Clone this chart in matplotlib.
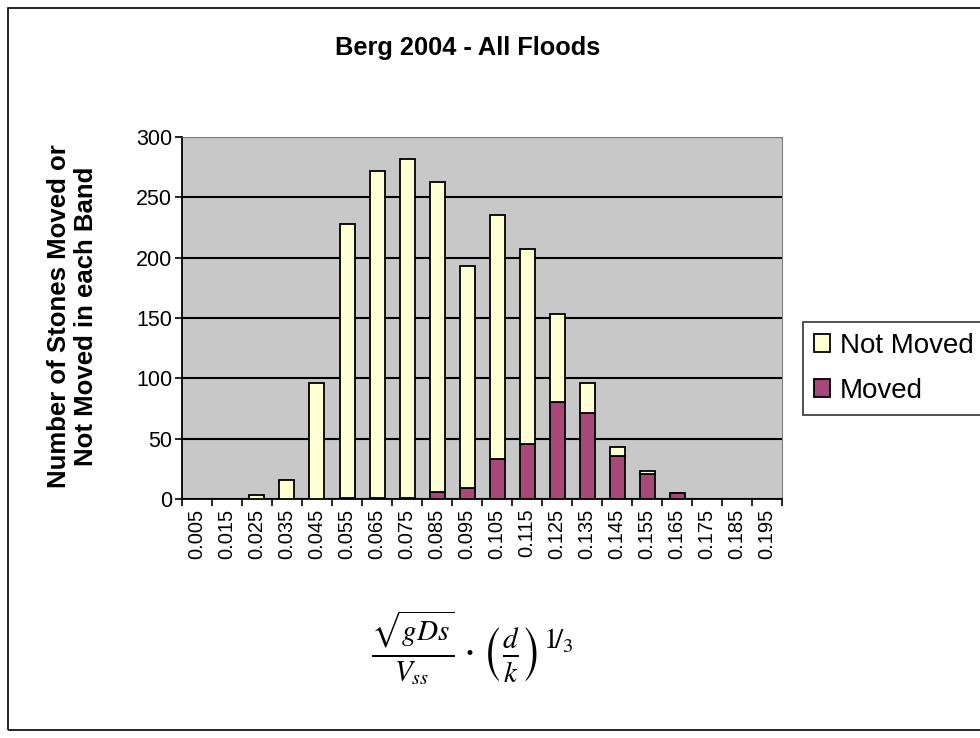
import numpy as np
import matplotlib
matplotlib.use("Agg")
import matplotlib.pyplot as plt
from matplotlib.patches import Rectangle

# Data
bands = ["0.005", "0.015", "0.025", "0.035", "0.045", "0.055", "0.065", "0.075",
         "0.085", "0.095", "0.105", "0.115", "0.125", "0.135", "0.145", "0.155",
         "0.165", "0.175", "0.185", "0.195"]
moved = [0, 0, 0, 0, 0, 1, 1, 1, 6, 9, 33, 46, 80, 71, 36, 21, 5, 0, 0, 0]
total = [0, 0, 3, 16, 96, 228, 272, 282, 263, 193, 235, 207, 153, 96, 43, 23, 5, 0, 0, 0]
not_moved = [t - m for t, m in zip(total, moved)]

plt.rcParams['font.family'] = ['Liberation Sans', 'DejaVu Sans']
plt.rcParams['mathtext.fontset'] = 'stix'

fig = plt.figure(figsize=(9.8, 7.38), dpi=100)
fig.patches.append(Rectangle((0.008, 0.011), 1.2, 0.978, transform=fig.transFigure,
                             fill=False, edgecolor='black', linewidth=1.2))

ax = fig.add_axes([0.1857, 0.3238, 0.6123, 0.4906])
ax.set_facecolor('#c8c8c8')
x = np.arange(len(bands))
ax.bar(x, moved, width=0.5, color='#a84878', edgecolor='black', linewidth=1.3,
       label='Moved', zorder=3)
ax.bar(x, not_moved, width=0.5, bottom=moved, color='#ffffd4', edgecolor='black',
       linewidth=1.3, label='Not Moved', zorder=3)

ax.set_xlim(-0.5, len(bands) - 0.5)
ax.set_ylim(0, 300)
ax.set_yticks(range(0, 301, 50))
ax.tick_params(axis='y', labelsize=15.5, length=5, width=1.2, direction='out', pad=2)
ax.yaxis.grid(True, color='black', linewidth=1.5, zorder=1)
ax.set_axisbelow(True)

ax.set_xticks(x)
ax.set_xticklabels(bands, rotation=90, fontsize=14.5)
ax.tick_params(axis='x', length=0, pad=7)
ax.set_xticks(np.arange(-0.5, len(bands)), minor=True)
ax.tick_params(axis='x', which='minor', length=5, width=1.2, direction='out')

for s in ['top', 'right']:
    ax.spines[s].set_color('#808080')
for s in ['left', 'bottom']:
    ax.spines[s].set_color('black')
    ax.spines[s].set_linewidth(1.3)

ax.set_ylabel('Number of Stones Moved or\nNot Moved in each Band', fontsize=18.5,
              fontweight='bold', linespacing=1.15)
ax.yaxis.set_label_coords(-0.14, 0.505)
fig.text(0.477, 0.935, 'Berg 2004 - All Floods', ha='center', va='center',
         fontsize=18.3, fontweight='bold')

fig.text(0.482, 0.122,
         r'$\frac{\sqrt{gDs}}{V_{ss}}\cdot\left(\frac{d}{k}\right)^{1\!/_{3}}$',
         ha='center', va='center', fontsize=30)

handles, labels = ax.get_legend_handles_labels()
leg = fig.legend(handles[::-1], labels[::-1], loc='upper left',
                 bbox_to_anchor=(0.819, 0.5637), fontsize=20, frameon=True,
                 fancybox=False, edgecolor='black', handlelength=0.6,
                 handleheight=0.6, handletextpad=0.35, borderpad=0.4,
                 labelspacing=0.67, borderaxespad=0)
leg.get_frame().set_linewidth(1.2)

fig.savefig('out.png', dpi=100)
